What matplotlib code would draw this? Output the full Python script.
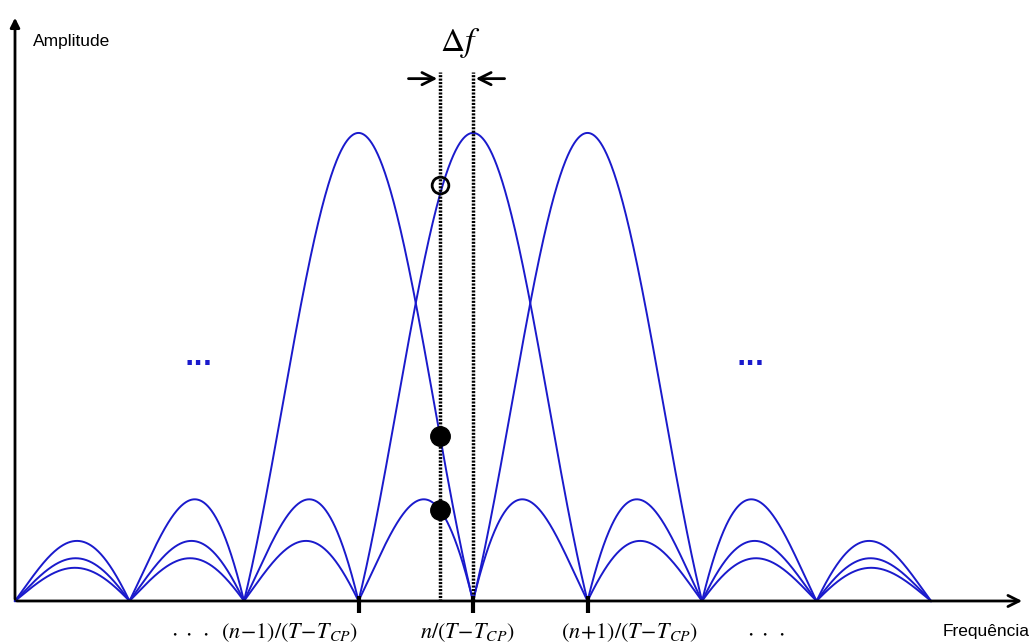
import numpy as np
import matplotlib
matplotlib.use("Agg")
import matplotlib.pyplot as plt

plt.rcParams['mathtext.fontset'] = 'stix'

# subcarrier centres, in units of 1/(T-T_CP)
centres = [-1, 0, 1]
f_min, f_max = -4.0, 4.0
offset = -0.288          # sampling offset (Delta f)
tick_pos = [-1, 0, 1]
tick_labels = [r'$(n\!-\!1)/(T\!-\!T_{CP})$', r'$n/(T\!-\!T_{CP})$', r'$(n\!+\!1)/(T\!-\!T_{CP})$']
label_pos = [-1.6, -0.05, 1.37]

blue = '#1a1acc'

fig = plt.figure(figsize=(10.31, 6.44), dpi=100)
ax = fig.add_axes([0, 0, 1, 1])
ax.set_xlim(-4.131, 4.873)
ax.set_ylim(-0.0919, 1.284)
ax.axis('off')

f = np.linspace(f_min, f_max, 2001)
for c in centres:
    ax.plot(f, np.abs(np.sinc(f - c)), color=blue, lw=1.4)

# axes with arrows
ax.annotate('', xy=(f_min, 1.252), xytext=(f_min, -0.002),
            arrowprops=dict(arrowstyle='-|>', color='black', lw=2, mutation_scale=14))
ax.annotate('', xy=(4.82, 0), xytext=(f_min - 0.01, 0),
            arrowprops=dict(arrowstyle='->', color='black', lw=2, mutation_scale=20))

# ticks
for t in tick_pos:
    ax.plot([t, t], [-0.025, 0.01], color='black', lw=3, solid_capstyle='butt')
for x, s in zip(label_pos, tick_labels):
    ax.text(x, -0.068, s, ha='center', va='center', fontsize=16)
ax.text(-2.47, -0.068, r'$\cdot\;\cdot\;\cdot$', ha='center', va='center', fontsize=16)
ax.text(2.56, -0.068, r'$\cdot\;\cdot\;\cdot$', ha='center', va='center', fontsize=16)

# sampling lines
for x in [offset, 0]:
    ax.plot([x, x], [0, 1.13], color='black', lw=2.5, linestyle=(0, (0.6, 0.4)))
ax.annotate('', xy=(offset, 1.116), xytext=(offset - 0.3, 1.116),
            arrowprops=dict(arrowstyle='->', color='black', lw=2, mutation_scale=22))
ax.annotate('', xy=(0, 1.116), xytext=(0.3, 1.116),
            arrowprops=dict(arrowstyle='->', color='black', lw=2, mutation_scale=22))
ax.text(-0.11, 1.192, r'$\Delta f$', ha='center', va='center', fontsize=24)

# samples at the offset
vals = [np.abs(np.sinc(offset - c)) for c in centres]
ax.plot(offset, vals[1] + 0.02, 'o', ms=12, mfc='none', mec='black', mew=2)
ax.plot([offset, offset], [vals[0], vals[2]], 'o', ms=14, color='black', ls='none')

# blue ellipses
ax.text(-2.4, 0.52, '...', color=blue, ha='center', va='center', fontsize=18, fontweight='bold')
ax.text(2.42, 0.52, '...', color=blue, ha='center', va='center', fontsize=18, fontweight='bold')

ax.text(-3.845, 1.195, 'Amplitude', ha='left', va='center', fontsize=12.5, family='Liberation Sans')
ax.text(4.86, -0.066, 'Frequência', ha='right', va='center', fontsize=12.5, family='Liberation Sans')

fig.savefig('out.png', dpi=100)
